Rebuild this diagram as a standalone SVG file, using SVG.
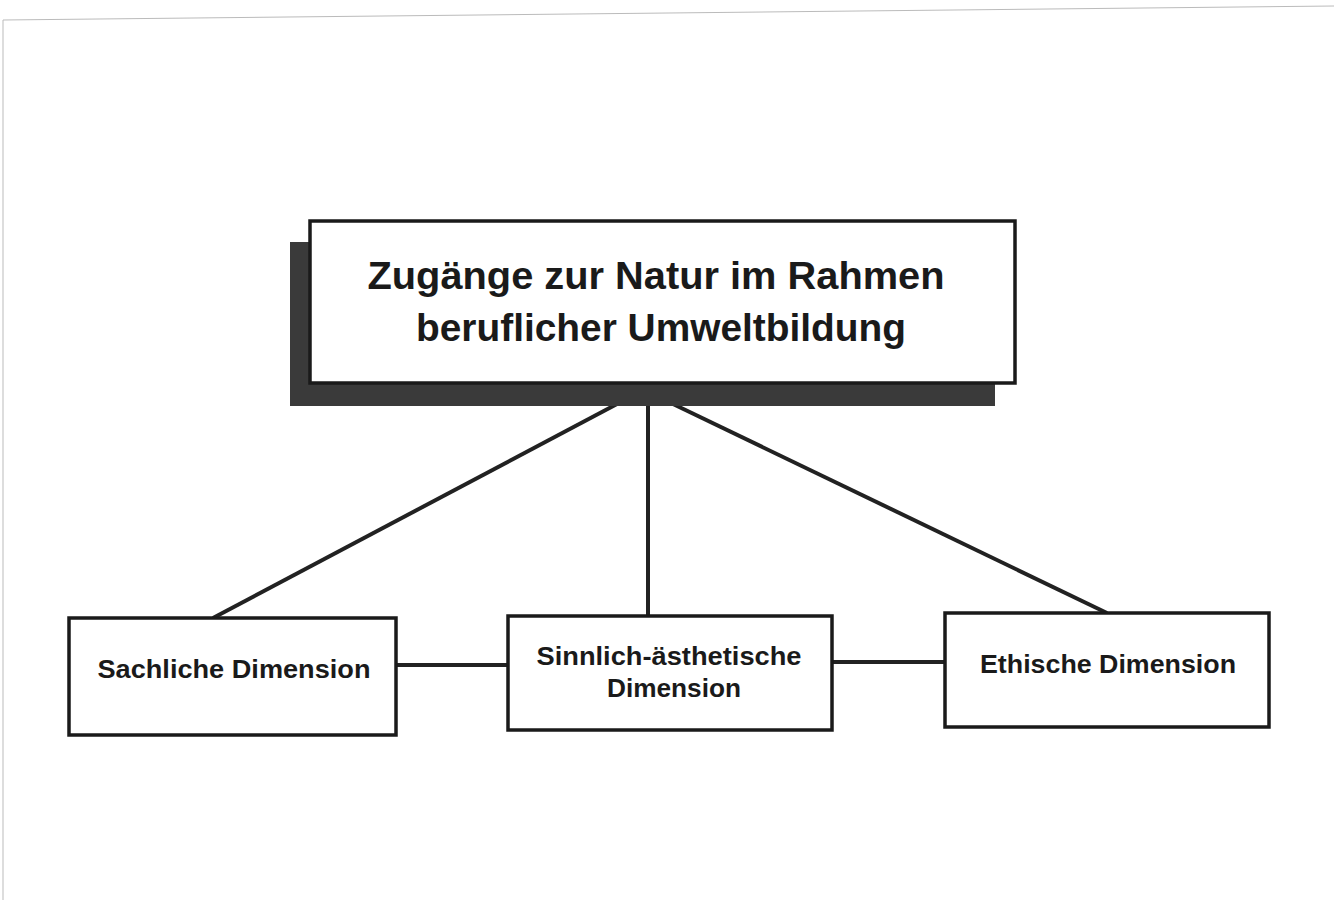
<svg xmlns="http://www.w3.org/2000/svg" width="1334" height="908" viewBox="0 0 1334 908">
<style>
.box{fill:#fff;stroke:#1a1a1a;stroke-width:3.5}
.conn{stroke:#222;stroke-width:4;fill:none}
.t{font-family:"Liberation Sans",Arial,sans-serif;fill:#1a1a1a;text-anchor:middle;font-weight:bold}
.big{font-size:38px}
.small{font-size:26px}
.mid{font-size:25px}
.scan{stroke:#bbb;stroke-width:1;fill:none}
</style>
<rect width="1334" height="908" fill="#fff"/>
<path class="scan" d="M3 20 L1334 6 M3 20 L3 900"/>
<g id="connectors">
<line class="conn" x1="617" y1="404" x2="213" y2="618"/>
<line class="conn" x1="648" y1="404" x2="648" y2="616"/>
<line class="conn" x1="673" y1="404" x2="1107" y2="613"/>
<line class="conn" x1="396" y1="665" x2="508" y2="665"/>
<line class="conn" x1="832" y1="662" x2="945" y2="662"/>
</g>
<g id="main">
<rect x="290" y="242" width="705" height="164" fill="#3a3a3a"/>
<rect class="box" x="310" y="221" width="705" height="162"/>
<text class="t big" x="656" y="289" textLength="577" lengthAdjust="spacingAndGlyphs">Zugänge zur Natur im Rahmen</text>
<text class="t big" x="661" y="341" textLength="490" lengthAdjust="spacingAndGlyphs">beruflicher Umweltbildung</text>
</g>
<g id="sachlich">
<rect class="box" x="69" y="618" width="327" height="117"/>
<text class="t small" x="234" y="678" textLength="273" lengthAdjust="spacingAndGlyphs">Sachliche Dimension</text>
</g>
<g id="sinnlich">
<rect class="box" x="508" y="616" width="324" height="114"/>
<text class="t mid" x="669" y="665" textLength="265" lengthAdjust="spacingAndGlyphs">Sinnlich-ästhetische</text>
<text class="t mid" x="674" y="697" textLength="134" lengthAdjust="spacingAndGlyphs">Dimension</text>
</g>
<g id="ethisch">
<rect class="box" x="945" y="613" width="324" height="114"/>
<text class="t small" x="1108" y="673" textLength="256" lengthAdjust="spacingAndGlyphs">Ethische Dimension</text>
</g>
</svg>
